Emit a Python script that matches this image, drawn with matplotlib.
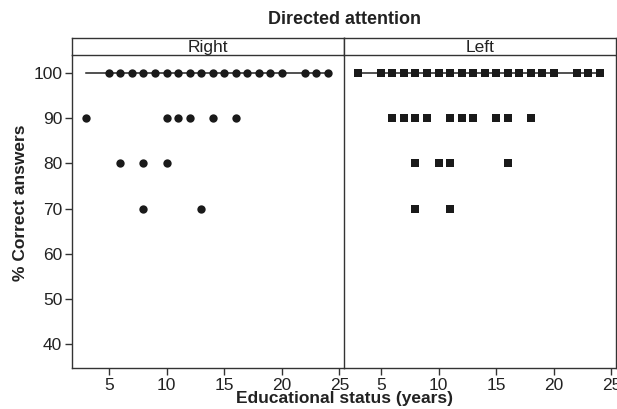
import numpy as np
import matplotlib.pyplot as plt

plt.rcParams['font.family'] = ['Liberation Sans', 'DejaVu Sans']

# Right-directed attention (circles)
right_x = [5, 6, 7, 8, 9, 10, 11, 12, 13, 14, 15, 16, 17, 18, 19, 20, 22, 23, 24,
           3, 10, 11, 12, 14, 16,
           6, 8, 10,
           8, 13]
right_y = [100] * 19 + [90] * 6 + [80] * 3 + [70] * 2

# Left-directed attention (squares)
left_x = [3, 5, 6, 7, 8, 9, 10, 11, 12, 13, 14, 15, 16, 17, 18, 19, 20, 22, 23, 24,
          6, 7, 8, 9, 11, 12, 13, 15, 16, 18,
          8, 10, 11, 16,
          8, 11]
left_y = [100] * 20 + [90] * 10 + [80] * 4 + [70] * 2

panels = ['Right', 'Left']
line_level = 100

fig = plt.figure(figsize=(6.17, 4.09), dpi=100)

x0, w = 72 / 617, 272 / 617
b, h = 1 - 368 / 409, (368 - 55) / 409
sh = 17 / 409
edge = '#333333'
txt = '#222222'

data = [(right_x, right_y, 'o', 6.0), (left_x, left_y, 's', 6.4)]
for i, (name, (xs, ys, mk, ms)) in enumerate(zip(panels, data)):
    ax = fig.add_axes([x0 + i * w, b, w, h])
    ax.plot([min(xs), max(xs)], [line_level, line_level], color='#222222', lw=1.1, zorder=1)
    ax.plot(xs, ys, linestyle='none', marker=mk, ms=ms, color='#1a1a1a',
            markeredgewidth=0, zorder=2)
    ax.set_xlim(1.8, 25.4)
    ax.set_ylim(34.7, 104)
    ax.set_xticks([5, 10, 15, 20, 25])
    ax.set_yticks([40, 50, 60, 70, 80, 90, 100])
    ax.tick_params(direction='out', length=5, width=1.0, color=edge,
                   labelsize=12.5, labelcolor=txt, pad=2)
    for s in ax.spines.values():
        s.set_color(edge)
        s.set_linewidth(1.0)
    ax.spines['top'].set_visible(False)
    if i == 0:
        ax.spines['right'].set_visible(False)
    else:
        ax.tick_params(axis='y', left=False, labelleft=False)

    st = fig.add_axes([x0 + i * w, b + h, w, sh])
    st.set_xticks([])
    st.set_yticks([])
    for s in st.spines.values():
        s.set_color(edge)
        s.set_linewidth(1.0)
    st.text(0.5, 0.45, name, ha='center', va='center', fontsize=12.5, color=txt,
            transform=st.transAxes)

fig.text(x0 + w, 1 - 20 / 409, 'Directed attention', ha='center', va='center',
         fontsize=13, fontweight='bold', color=txt)
fig.text(x0 + w, 1 - 399 / 409, 'Educational status (years)', ha='center', va='center',
         fontsize=12.5, fontweight='bold', color=txt)
fig.text(21 / 617, 1 - 203 / 409, '% Correct answers', ha='center', va='center',
         rotation=90, fontsize=12.5, fontweight='bold', color=txt)

fig.savefig('out.png', dpi=100)
